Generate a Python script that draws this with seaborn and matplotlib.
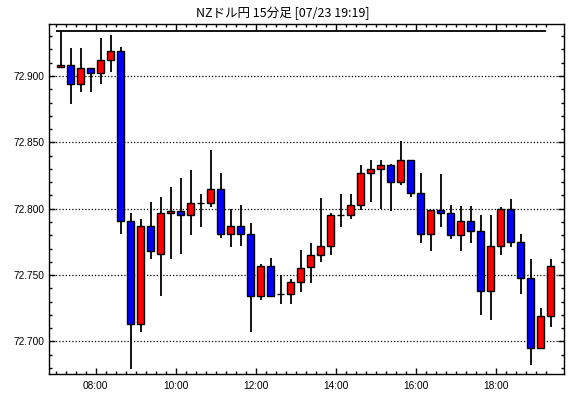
import matplotlib
matplotlib.use("Agg")
import matplotlib.pyplot as plt
from matplotlib.ticker import FixedLocator, MultipleLocator, FormatStrFormatter
import seaborn as sns
import pandas as pd
import numpy as np

# ---- data (NZD/JPY 15-minute candles, 07:00 - 19:15) ----
opens  = [72.907, 72.908, 72.894, 72.906, 72.902, 72.912, 72.919, 72.791, 72.713, 72.787,
          72.766, 72.797, 72.798, 72.795, 72.804, 72.804, 72.815, 72.781, 72.787, 72.781,
          72.734, 72.757, 72.736, 72.736, 72.745, 72.756, 72.765, 72.772, 72.795, 72.795,
          72.803, 72.827, 72.830, 72.833, 72.820, 72.837, 72.812, 72.781, 72.799, 72.797,
          72.780, 72.791, 72.783, 72.738, 72.772, 72.800, 72.775, 72.748, 72.695, 72.719]
highs  = [72.934, 72.921, 72.921, 72.906, 72.929, 72.931, 72.922, 72.797, 72.792, 72.805,
          72.809, 72.816, 72.823, 72.829, 72.811, 72.844, 72.827, 72.800, 72.803, 72.789,
          72.758, 72.763, 72.750, 72.747, 72.769, 72.774, 72.808, 72.797, 72.811, 72.811,
          72.833, 72.837, 72.837, 72.834, 72.851, 72.837, 72.827, 72.799, 72.826, 72.803,
          72.802, 72.802, 72.795, 72.795, 72.801, 72.807, 72.781, 72.762, 72.725, 72.762]
lows   = [72.907, 72.879, 72.888, 72.888, 72.894, 72.903, 72.781, 72.679, 72.707, 72.762,
          72.734, 72.762, 72.766, 72.780, 72.786, 72.801, 72.778, 72.771, 72.772, 72.707,
          72.731, 72.734, 72.728, 72.728, 72.737, 72.744, 72.760, 72.765, 72.786, 72.792,
          72.799, 72.805, 72.800, 72.798, 72.818, 72.809, 72.774, 72.768, 72.786, 72.777,
          72.768, 72.774, 72.720, 72.716, 72.765, 72.771, 72.736, 72.682, 72.695, 72.711]
closes = [72.908, 72.894, 72.906, 72.902, 72.912, 72.919, 72.791, 72.713, 72.787, 72.768,
          72.797, 72.798, 72.795, 72.804, 72.804, 72.815, 72.781, 72.787, 72.781, 72.734,
          72.757, 72.734, 72.736, 72.745, 72.755, 72.765, 72.772, 72.795, 72.795, 72.803,
          72.827, 72.830, 72.833, 72.820, 72.837, 72.812, 72.781, 72.799, 72.797, 72.780,
          72.791, 72.783, 72.738, 72.772, 72.800, 72.775, 72.748, 72.695, 72.719, 72.757]

times = pd.date_range("2020-07-23 07:00", periods=len(opens), freq="15min").strftime("%H:%M").tolist()
major_labels = ["08:00", "10:00", "12:00", "14:00", "16:00", "18:00"]
y_ticks = [72.700, 72.750, 72.800, 72.850, 72.900]
title = "NZドル円 15分足 [07/23 19:19]"

UP = "#ff0000"
DOWN = "#0000ff"

df = pd.DataFrame({"time": times, "open": opens, "high": highs, "low": lows, "close": closes})
df["x"] = np.arange(len(df))
df["bottom"] = df[["open", "close"]].min(axis=1)
df["height"] = (df["close"] - df["open"]).abs()
df["color"] = np.where(df["close"] >= df["open"], UP, DOWN)

sns.set_theme(style="white")
plt.rcParams["font.family"] = ["Liberation Sans", "DejaVu Sans", "Noto Sans CJK JP"]

fig = plt.figure(figsize=(5.70, 3.98), dpi=100)
W, H = 570.0, 398.0
L, R, T, B = 49.3, 564.3, 24.0, 374.3
ax = fig.add_axes([L / W, (H - B) / H, (R - L) / W, (B - T) / H])

# wicks
ax.vlines(df["x"], df["low"], df["high"], color="black", linewidth=1.3, zorder=2)
# bodies
ax.bar(df["x"], df["height"], bottom=df["bottom"], width=0.62, color=df["color"],
       edgecolor="black", linewidth=1.0, zorder=3)
# high line
ax.hlines(df["high"].max(), -0.5, len(df) - 1.5, color="black", linewidth=1.3, zorder=2)

ax.set_xlim(-1.12, 50.38)
ax.set_ylim(72.6752, 72.9392)

# y axis
ax.yaxis.set_major_locator(FixedLocator(y_ticks))
ax.yaxis.set_major_formatter(FormatStrFormatter("%.3f"))
ax.yaxis.set_minor_locator(MultipleLocator(0.01))
ax.grid(axis="y", which="major", color="black", linestyle=(0, (1, 1.6)), linewidth=0.9)
ax.set_axisbelow(True)

# x axis
pos_major = [times.index(t) - 0.5 for t in major_labels]
ax.xaxis.set_major_locator(FixedLocator(pos_major))
ax.set_xticklabels(major_labels)
ax.xaxis.set_minor_locator(FixedLocator(np.arange(-0.5, len(df) - 1, 1.0)))

ax.tick_params(axis="both", which="both", direction="in", top=True, right=True,
               bottom=True, left=True, color="black", width=1.0)
ax.tick_params(axis="both", which="major", length=4.5, labelsize=7.3, labelcolor="black")
ax.tick_params(axis="both", which="minor", length=2.2)
ax.tick_params(axis="y", which="major", pad=3.3)
ax.tick_params(axis="x", which="major", pad=4.8)

for s in ax.spines.values():
    s.set_color("black")
    s.set_linewidth(1.0)
    s.set_visible(True)

fig.text(283 / W, 1 - 13 / H, title, ha="center", va="center", fontsize=9,
         family=["Noto Sans CJK JP", "DejaVu Sans"], color="black")

fig.savefig("out.png", dpi=100, facecolor="white")
